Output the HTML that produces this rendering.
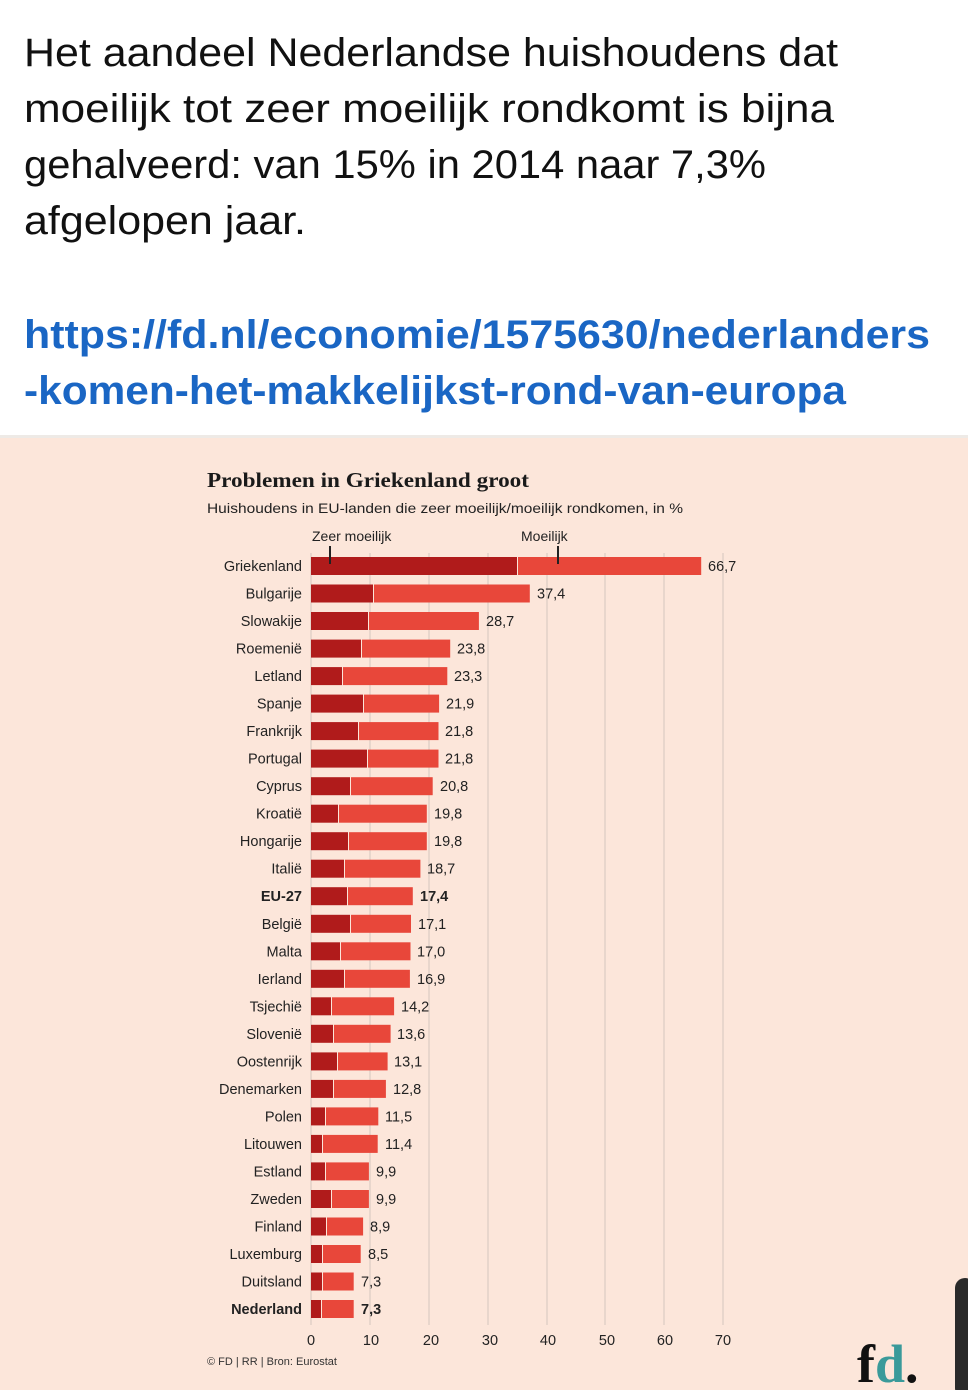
<!DOCTYPE html>
<html><head><meta charset="utf-8"><style>
html,body{margin:0;padding:0;width:968px;height:1390px;overflow:hidden;background:#fff}
svg{display:block}
</style></head><body>
<svg width="968" height="1390" xmlns="http://www.w3.org/2000/svg" font-family="Liberation Sans, sans-serif">
<rect x="0" y="0" width="968" height="437" fill="#ffffff"/>
<rect x="0" y="435" width="968" height="3" fill="#eeeae6"/>
<rect x="0" y="438" width="968" height="952" fill="#fce6da"/>
<g font-size="40" fill="#111">
<text x="24" y="66" textLength="814" lengthAdjust="spacingAndGlyphs">Het aandeel Nederlandse huishoudens dat</text>
<text x="24" y="122" textLength="810" lengthAdjust="spacingAndGlyphs">moeilijk tot zeer moeilijk rondkomt is bijna</text>
<text x="24" y="178" textLength="742" lengthAdjust="spacingAndGlyphs">gehalveerd: van 15% in 2014 naar 7,3%</text>
<text x="24" y="234" textLength="282" lengthAdjust="spacingAndGlyphs">afgelopen jaar.</text>
</g>
<g font-size="40" font-weight="bold" fill="#1a66c4">
<text x="24" y="348" textLength="906" lengthAdjust="spacingAndGlyphs">https://fd.nl/economie/1575630/nederlanders</text>
<text x="24" y="404" textLength="822" lengthAdjust="spacingAndGlyphs">-komen-het-makkelijkst-rond-van-europa</text>
</g>
<text x="207" y="487" font-family="Liberation Serif, serif" font-weight="bold" font-size="21" fill="#1a1a1a" textLength="322" lengthAdjust="spacingAndGlyphs">Problemen in Griekenland groot</text>
<text x="207" y="513" font-size="14" fill="#222" textLength="476" lengthAdjust="spacingAndGlyphs">Huishoudens in EU-landen die zeer moeilijk/moeilijk rondkomen, in %</text>
<text x="312" y="541" font-size="14" fill="#222">Zeer moeilijk</text>
<text x="521" y="541" font-size="14" fill="#222">Moeilijk</text>
<g stroke="#d4c6bd" stroke-width="1">
<line x1="311" y1="553" x2="311" y2="1325"/>
<line x1="370" y1="553" x2="370" y2="1325"/>
<line x1="429" y1="553" x2="429" y2="1325"/>
<line x1="488" y1="553" x2="488" y2="1325"/>
<line x1="547" y1="553" x2="547" y2="1325"/>
<line x1="605" y1="553" x2="605" y2="1325"/>
<line x1="664" y1="553" x2="664" y2="1325"/>
<line x1="723" y1="553" x2="723" y2="1325"/>
</g>
<g fill="#b01b1b">
<rect x="311" y="557" width="206" height="18"/>
<rect x="311" y="584.5" width="62" height="18"/>
<rect x="311" y="612" width="57" height="18"/>
<rect x="311" y="639.6" width="50" height="18"/>
<rect x="311" y="667.1" width="31" height="18"/>
<rect x="311" y="694.6" width="52" height="18"/>
<rect x="311" y="722.1" width="47" height="18"/>
<rect x="311" y="749.6" width="56" height="18"/>
<rect x="311" y="777.2" width="39" height="18"/>
<rect x="311" y="804.7" width="27" height="18"/>
<rect x="311" y="832.2" width="37" height="18"/>
<rect x="311" y="859.7" width="33" height="18"/>
<rect x="311" y="887.2" width="36" height="18"/>
<rect x="311" y="914.8" width="39" height="18"/>
<rect x="311" y="942.3" width="29" height="18"/>
<rect x="311" y="969.8" width="33" height="18"/>
<rect x="311" y="997.3" width="20" height="18"/>
<rect x="311" y="1024.8" width="22" height="18"/>
<rect x="311" y="1052.4" width="26" height="18"/>
<rect x="311" y="1079.9" width="22" height="18"/>
<rect x="311" y="1107.4" width="14" height="18"/>
<rect x="311" y="1134.9" width="11" height="18"/>
<rect x="311" y="1162.4" width="14" height="18"/>
<rect x="311" y="1190" width="20" height="18"/>
<rect x="311" y="1217.5" width="15" height="18"/>
<rect x="311" y="1245" width="11" height="18"/>
<rect x="311" y="1272.5" width="11" height="18"/>
<rect x="311" y="1300" width="10" height="18"/>
</g>
<g fill="#e8473a">
<rect x="518" y="557" width="183.2" height="18"/>
<rect x="374" y="584.5" width="155.8" height="18"/>
<rect x="369" y="612" width="109.9" height="18"/>
<rect x="362" y="639.6" width="88.2" height="18"/>
<rect x="343" y="667.1" width="104.3" height="18"/>
<rect x="364" y="694.6" width="75.1" height="18"/>
<rect x="359" y="722.1" width="79.5" height="18"/>
<rect x="368" y="749.6" width="70.5" height="18"/>
<rect x="351" y="777.2" width="81.7" height="18"/>
<rect x="339" y="804.7" width="87.8" height="18"/>
<rect x="349" y="832.2" width="77.8" height="18"/>
<rect x="345" y="859.7" width="75.4" height="18"/>
<rect x="348" y="887.2" width="64.8" height="18"/>
<rect x="351" y="914.8" width="60" height="18"/>
<rect x="341" y="942.3" width="69.5" height="18"/>
<rect x="345" y="969.8" width="64.9" height="18"/>
<rect x="332" y="997.3" width="62.1" height="18"/>
<rect x="334" y="1024.8" width="56.6" height="18"/>
<rect x="338" y="1052.4" width="49.6" height="18"/>
<rect x="334" y="1079.9" width="51.9" height="18"/>
<rect x="326" y="1107.4" width="52.3" height="18"/>
<rect x="323" y="1134.9" width="54.7" height="18"/>
<rect x="326" y="1162.4" width="42.9" height="18"/>
<rect x="332" y="1190" width="36.9" height="18"/>
<rect x="327" y="1217.5" width="36.1" height="18"/>
<rect x="323" y="1245" width="37.7" height="18"/>
<rect x="323" y="1272.5" width="30.7" height="18"/>
<rect x="322" y="1300" width="31.7" height="18"/>
</g>
<g font-size="14.5" fill="#222" text-anchor="end">
<text x="302" y="571">Griekenland</text>
<text x="302" y="598.5">Bulgarije</text>
<text x="302" y="626">Slowakije</text>
<text x="302" y="653.6">Roemenië</text>
<text x="302" y="681.1">Letland</text>
<text x="302" y="708.6">Spanje</text>
<text x="302" y="736.1">Frankrijk</text>
<text x="302" y="763.6">Portugal</text>
<text x="302" y="791.2">Cyprus</text>
<text x="302" y="818.7">Kroatië</text>
<text x="302" y="846.2">Hongarije</text>
<text x="302" y="873.7">Italië</text>
<text x="302" y="901.2" font-weight="bold">EU-27</text>
<text x="302" y="928.8">België</text>
<text x="302" y="956.3">Malta</text>
<text x="302" y="983.8">Ierland</text>
<text x="302" y="1011.3">Tsjechië</text>
<text x="302" y="1038.8">Slovenië</text>
<text x="302" y="1066.4">Oostenrijk</text>
<text x="302" y="1093.9">Denemarken</text>
<text x="302" y="1121.4">Polen</text>
<text x="302" y="1148.9">Litouwen</text>
<text x="302" y="1176.4">Estland</text>
<text x="302" y="1204">Zweden</text>
<text x="302" y="1231.5">Finland</text>
<text x="302" y="1259">Luxemburg</text>
<text x="302" y="1286.5">Duitsland</text>
<text x="302" y="1314" font-weight="bold">Nederland</text>
</g>
<g font-size="14.5" fill="#222">
<text x="708" y="571">66,7</text>
<text x="537" y="598.5">37,4</text>
<text x="486" y="626">28,7</text>
<text x="457" y="653.6">23,8</text>
<text x="454" y="681.1">23,3</text>
<text x="446" y="708.6">21,9</text>
<text x="445" y="736.1">21,8</text>
<text x="445" y="763.6">21,8</text>
<text x="440" y="791.2">20,8</text>
<text x="434" y="818.7">19,8</text>
<text x="434" y="846.2">19,8</text>
<text x="427" y="873.7">18,7</text>
<text x="420" y="901.2" font-weight="bold">17,4</text>
<text x="418" y="928.8">17,1</text>
<text x="417" y="956.3">17,0</text>
<text x="417" y="983.8">16,9</text>
<text x="401" y="1011.3">14,2</text>
<text x="397" y="1038.8">13,6</text>
<text x="394" y="1066.4">13,1</text>
<text x="393" y="1093.9">12,8</text>
<text x="385" y="1121.4">11,5</text>
<text x="385" y="1148.9">11,4</text>
<text x="376" y="1176.4">9,9</text>
<text x="376" y="1204">9,9</text>
<text x="370" y="1231.5">8,9</text>
<text x="368" y="1259">8,5</text>
<text x="361" y="1286.5">7,3</text>
<text x="361" y="1314" font-weight="bold">7,3</text>
</g>
<line x1="330" y1="546" x2="330" y2="564" stroke="#222" stroke-width="2"/>
<line x1="558" y1="546" x2="558" y2="564" stroke="#222" stroke-width="2"/>
<g font-size="14.5" fill="#222" text-anchor="middle">
<text x="311" y="1345">0</text><text x="371" y="1345">10</text><text x="431" y="1345">20</text><text x="490" y="1345">30</text><text x="548" y="1345">40</text><text x="607" y="1345">50</text><text x="665" y="1345">60</text><text x="723" y="1345">70</text>
</g>
<text x="207" y="1365" font-size="11" fill="#333">© FD | RR | Bron: Eurostat</text>
<text x="857" y="1382" font-family="Liberation Serif, serif" font-weight="bold" font-size="54" fill="#111">f<tspan fill="#3a9a9a">d</tspan>.</text>
<rect x="955" y="1278" width="20" height="120" rx="10" fill="#2a2a2a"/>
</svg>
</body></html>
